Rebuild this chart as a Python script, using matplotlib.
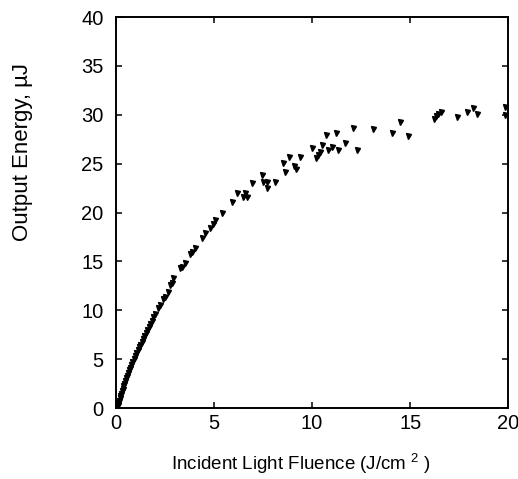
import numpy as np
import matplotlib
matplotlib.use("Agg")
import matplotlib.pyplot as plt

plt.rcParams['font.family'] = ['Liberation Sans', 'DejaVu Sans']
plt.rcParams['mathtext.fontset'] = 'custom'
plt.rcParams['mathtext.rm'] = 'Liberation Sans'
plt.rcParams['mathtext.it'] = 'Liberation Sans'

# --- data ---
fluence = [0.08, 0.12, 0.15, 0.19, 0.22, 0.26, 0.30, 0.34, 0.38, 0.42,
           0.46, 0.51, 0.56, 0.61, 0.66, 0.71, 0.77, 0.83, 0.90, 0.97,
           1.04, 1.10, 1.17, 1.23, 1.30, 1.37, 1.44, 1.51, 1.58, 1.66,
           1.74, 1.82, 1.90, 2.00, 2.15, 2.24, 2.40, 2.50, 2.65, 2.76,
           2.84, 2.90, 3.27, 3.37, 3.52, 3.78, 3.90, 4.03, 4.39, 4.54,
           4.80, 4.95, 5.05, 5.40, 5.90, 6.17, 6.50, 6.58, 6.67, 6.94,
           7.45, 7.50, 7.70, 7.70, 8.10, 8.50, 8.60, 8.80, 9.10, 9.20,
           9.40, 10.0, 10.2, 10.3, 10.4, 10.5, 10.7, 10.8, 11.0, 11.2,
           11.3, 11.7, 12.1, 12.3, 13.1, 14.1, 14.5, 14.9, 16.2, 16.3,
           16.4, 16.6, 17.4, 17.9, 18.2, 18.4, 19.85, 19.85]
energy = [0.3, 0.55, 0.75, 1.0, 1.2, 1.45, 1.75, 2.0, 2.3, 2.5,
          2.8, 3.05, 3.3, 3.6, 3.85, 4.1, 4.4, 4.7, 5.0, 5.3,
          5.6, 5.9, 6.2, 6.45, 6.8, 7.1, 7.4, 7.7, 8.0, 8.3,
          8.6, 8.9, 9.3, 9.6, 10.2, 10.5, 11.2, 11.4, 11.9, 12.6,
          12.8, 13.3, 14.3, 14.4, 14.8, 15.8, 16.0, 16.4, 17.4, 17.9,
          18.4, 18.8, 19.2, 20.0, 21.1, 22.0, 21.6, 22.0, 21.6, 23.0,
          23.8, 23.1, 23.1, 22.5, 23.1, 25.1, 24.1, 25.7, 24.8, 24.5,
          25.7, 26.6, 25.6, 25.9, 26.2, 26.9, 27.9, 26.4, 26.7, 28.1,
          26.4, 27.1, 28.6, 26.4, 28.5, 28.1, 29.3, 27.8, 29.6, 29.9,
          30.1, 30.3, 29.8, 30.3, 30.7, 30.1, 30.8, 30.0]

xticks = [0, 5, 10, 15, 20]
yticks = [0, 5, 10, 15, 20, 25, 30, 35, 40]

fig = plt.figure(figsize=(5.18, 4.79), dpi=100)
ax = fig.add_axes([0.224, 0.148, 0.757, 0.8165])

ax.plot(fluence, energy, linestyle='none', marker='v', markersize=3.6,
        color='black', clip_on=False)

ax.set_xlim(0, 20)
ax.set_ylim(0, 40)
ax.set_xticks(xticks)
ax.set_yticks(yticks)
ax.tick_params(direction='in', top=True, right=True, length=4.5, width=1.1,
               labelsize=14.5)
ax.tick_params(axis='x', pad=4)
ax.tick_params(axis='y', pad=9)
for s in ax.spines.values():
    s.set_linewidth(1.4)

ax.set_xlabel("Incident Light Fluence (J/cm $^{2}$ )", fontsize=13.5)
ax.set_ylabel("Output Energy, µJ", fontsize=16)
ax.xaxis.set_label_coords(0.472, -0.112)
ax.yaxis.set_label_coords(-0.212, 0.655)

fig.savefig("out.png", dpi=100)
